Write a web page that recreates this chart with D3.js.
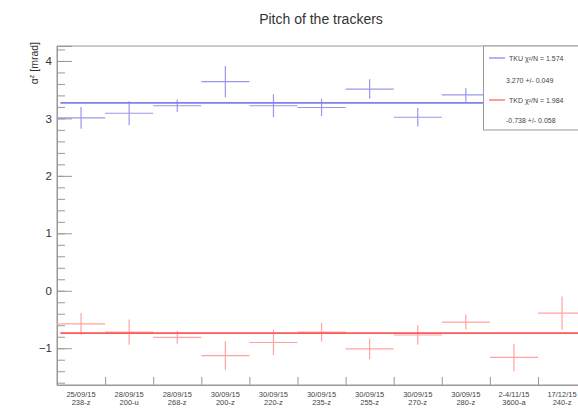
<!DOCTYPE html>
<html>
<head>
<meta charset="utf-8">
<script src="https://cdn.jsdelivr.net/npm/d3@7"></script>
<style>
body { margin: 0; background: #fff; }
text { font-family: "Liberation Sans", Arial, sans-serif; }
</style>
</head>
<body>
<svg id="chart" width="578" height="409"></svg>
<script>
var runDates = ["25/09/15", "28/09/15", "28/09/15", "30/09/15", "30/09/15", "30/09/15", "30/09/15", "30/09/15", "30/09/15", "2-4/11/15", "17/12/15"];
var runNames = ["238-z", "200-u", "268-z", "200-z", "220-z", "235-z", "255-z", "270-z", "280-z", "3600-a", "240-z"];
// TKU points (last two sit under the legend box, not readable)
var tkuVal = [3.01, 3.09, 3.22, 3.64, 3.22, 3.19, 3.51, 3.02, 3.41, null, null];
var tkuErr = [0.19, 0.21, 0.11, 0.27, 0.20, 0.15, 0.17, 0.16, 0.12, null, null];
var tkdVal = [-0.575, -0.72, -0.81, -1.13, -0.90, -0.72, -1.01, -0.77, -0.545, -1.16, -0.39];
var tkdErr = [0.19, 0.22, 0.11, 0.25, 0.22, 0.165, 0.18, 0.17, 0.13, 0.24, 0.29];
var fitVal = [3.270, -0.738];
var legendLines = ["TKU \u03C7\u00B2/N = 1.574", "3.270 +/- 0.049", "TKD \u03C7\u00B2/N = 1.984", "-0.738 +/- 0.058"];

var plotLeft = 57, plotTop = 46, plotBottom = 385;
var binW = 48.1;

var svg = d3.select("#chart");

var x = d3.scaleLinear().domain([0, 11]).range([plotLeft, plotLeft + 11 * binW]);
var y = d3.scaleLinear().domain([-1.64, 4.26]).range([plotBottom, plotTop]);

var blue = "#9898ea", blueFit = "#8080ea";
var red = "#ffa3a3", redFit = "#ff5858";

// title
svg.append("text")
    .attr("x", 321).attr("y", 24)
    .attr("text-anchor", "middle")
    .style("font-size", "14px")
    .attr("fill", "#333")
    .text("Pitch of the trackers");

// frame
svg.append("rect")
    .attr("x", plotLeft).attr("y", plotTop)
    .attr("width", 11 * binW).attr("height", plotBottom - plotTop)
    .attr("fill", "none").attr("stroke", "#999").attr("stroke-width", 1);

// y axis minor ticks
svg.append("g")
    .attr("transform", "translate(" + plotLeft + ",0)")
    .call(d3.axisLeft(y).tickValues(d3.range(-1.6, 4.21, 0.2)).tickSize(-8).tickFormat(""))
    .call(function (g) { g.select(".domain").remove(); })
    .selectAll("line").attr("stroke", "#999");

// y axis major ticks
var yAxis = svg.append("g")
    .attr("transform", "translate(" + plotLeft + ",0)")
    .call(d3.axisLeft(y).tickValues([-1, 0, 1, 2, 3, 4]).tickSize(-15).tickPadding(5).tickFormat(d3.format("d")));
yAxis.select(".domain").attr("stroke", "#999");
yAxis.selectAll("line").attr("stroke", "#999");
yAxis.selectAll("text").style("font-size", "11.5px").attr("fill", "#333");

// y label
var yl = svg.append("text")
    .attr("transform", "translate(38,42) rotate(-90)")
    .attr("text-anchor", "end")
    .style("font-size", "10.5px")
    .attr("fill", "#333");
yl.append("tspan").text("\u03B1");
yl.append("tspan").attr("dy", -4).style("font-size", "7px").text("z");
yl.append("tspan").attr("dy", 4).text(" [mrad]");

// x axis ticks at bin edges
var xAxis = svg.append("g")
    .attr("transform", "translate(0," + plotBottom + ")")
    .call(d3.axisBottom(x).tickValues(d3.range(1, 11)).tickSize(-8).tickFormat(""));
xAxis.select(".domain").attr("stroke", "#999");
xAxis.selectAll("line").attr("stroke", "#999");

// bin labels
var lab = svg.append("g").selectAll("text")
    .data(runDates)
    .enter().append("text")
    .attr("text-anchor", "middle")
    .style("font-size", "7.5px")
    .attr("fill", "#444");
lab.append("tspan")
    .attr("x", function (d, i) { return x(i + 0.5); })
    .attr("y", 397)
    .text(function (d) { return d; });
lab.append("tspan")
    .attr("x", function (d, i) { return x(i + 0.5); })
    .attr("y", 405)
    .text(function (d, i) { return runNames[i]; });

function drawPoints(vals, errs, color) {
    var pts = vals.map(function (v, i) { return { i: i, v: v, e: errs[i] }; })
        .filter(function (d) { return d.v !== null; });
    var g = svg.append("g");
    g.selectAll(".h").data(pts).enter().append("line")
        .attr("x1", function (d) { return x(d.i); })
        .attr("x2", function (d) { return x(d.i + 1); })
        .attr("y1", function (d) { return y(d.v); })
        .attr("y2", function (d) { return y(d.v); })
        .attr("stroke", color).attr("stroke-width", 1.2);
    g.selectAll(".v").data(pts).enter().append("line")
        .attr("x1", function (d) { return x(d.i + 0.5); })
        .attr("x2", function (d) { return x(d.i + 0.5); })
        .attr("y1", function (d) { return y(d.v - d.e); })
        .attr("y2", function (d) { return y(d.v + d.e); })
        .attr("stroke", color).attr("stroke-width", 1.2);
}

function drawFit(v, color) {
    svg.append("line")
        .attr("x1", x(0.07)).attr("x2", x(11))
        .attr("y1", y(v)).attr("y2", y(v))
        .attr("stroke", color).attr("stroke-width", 1.8);
}

drawPoints(tkuVal, tkuErr, blue);
drawFit(fitVal[0], blueFit);
drawPoints(tkdVal, tkdErr, red);
drawFit(fitVal[1], redFit);

// legend
var lg = svg.append("g");
lg.append("rect")
    .attr("x", 483.5).attr("y", plotTop)
    .attr("width", 110).attr("height", 84)
    .attr("fill", "#fff").attr("stroke", "#999");
var rowY = [58, 80, 100, 120];
[0, 2].forEach(function (k, j) {
    lg.append("line")
        .attr("x1", 489).attr("x2", 505)
        .attr("y1", rowY[k]).attr("y2", rowY[k])
        .attr("stroke", j === 0 ? blueFit : redFit).attr("stroke-width", 1.2);
});
lg.selectAll("text").data(legendLines).enter().append("text")
    .attr("x", function (d, i) { return i % 2 === 0 ? 509 : 506; })
    .attr("y", function (d, i) { return rowY[i] + 2.5; })
    .style("font-size", "7px")
    .attr("fill", "#444")
    .text(function (d) { return d; });
</script>
</body>
</html>
